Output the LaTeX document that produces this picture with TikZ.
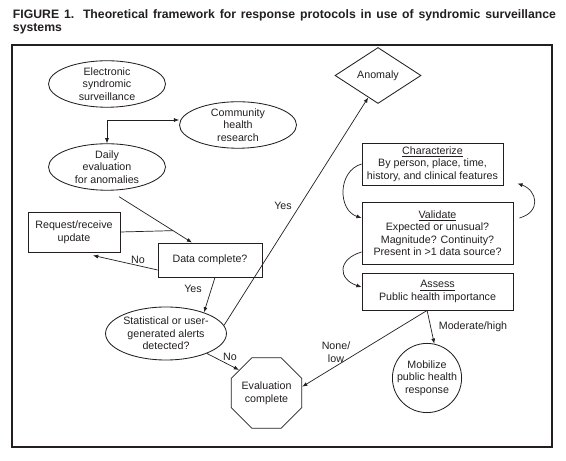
\documentclass[tikz,border=0pt]{standalone}
\usepackage{fontspec}
\setmainfont{Liberation Sans}
\usepackage{tikz}
\usetikzlibrary{arrows.meta, positioning, calc, shapes.geometric}
\definecolor{chartInk}{HTML}{231F20}

\begin{document}
\begin{tikzpicture}[
    oval/.style={
        ellipse,
        draw=chartInk,
        line width=0.6pt,
        inner sep=0pt,
        align=center
    },
    box/.style={
        rectangle,
        draw=chartInk,
        line width=0.6pt,
        inner sep=0pt,
        align=center
    },
    decision/.style={
        diamond,
        draw=chartInk,
        line width=0.6pt,
        inner sep=0pt
    },
    stopsign/.style={
        regular polygon,
        regular polygon sides=8,
        draw=chartInk,
        line width=0.6pt,
        inner sep=0pt,
        align=center
    },
    roundel/.style={
        circle,
        draw=chartInk,
        line width=0.6pt,
        inner sep=0pt,
        align=center
    },
    arrow/.style={-{Latex[length=1.3mm, width=1.0mm]}, draw=chartInk, line width=0.5pt},
    link/.style={draw=chartInk, line width=0.5pt},
    cue/.style={text=chartInk, align=center, inner sep=0pt},
    every node/.style={font=\fontsize{7.6}{8.9}\selectfont, text=chartInk}
]

% Page and outer frame
\useasboundingbox[fill=white] (0,0) rectangle (14.15,11.525);
\draw[draw=chartInk, line width=0.8pt] (0.30,0.35) rectangle (13.80,10.40);

% Title
\node[anchor=north west, inner sep=0pt, text width=13.575cm, align=justify,
      font=\fontsize{8.7}{9.6}\selectfont\bfseries] (title)
    at (0.3175,11.30)
    {FIGURE 1. Theoretical framework for response protocols in use of syndromic surveillance\linebreak systems};

% Left column
\node[oval, minimum width=2.925cm, minimum height=1.05cm] (esurv) at (2.675,9.425)
    {Electronic\\syndromic\\surveillance};
\node[oval, minimum width=2.925cm, minimum height=1.10cm] (community) at (5.95,8.40)
    {Community\\health\\research};
\node[oval, minimum width=2.925cm, minimum height=1.05cm] (daily) at (2.675,7.35)
    {Daily\\evaluation\\for anomalies};
\coordinate (split) at (2.675,8.525);

\node[box, minimum width=2.30cm, minimum height=1.00cm] (request) at (1.85,5.725)
    {Request/receive\\update};
\node[box, minimum width=2.60cm, minimum height=0.85cm] (dataok) at (5.25,5.025)
    {Data complete?};
\node[oval, minimum width=2.95cm, minimum height=1.325cm] (stats) at (4.15,3.1875)
    {Statistical or user-\\generated alerts\\detected?};
\node[stopsign, minimum size=1.65cm] (evalc) at (6.6625,1.70)
    {Evaluation\\complete};

% Right column
\node[decision, minimum width=2.15cm, minimum height=1.40cm] (anomaly) at (9.45,9.6375)
    {Anomaly};
\node[box, minimum width=3.525cm, minimum height=1.05cm] (charact) at (10.8125,7.425)
    {\underline{Characterize}\\By person, place, time,\\history, and clinical features};
\node[box, minimum width=3.775cm, minimum height=1.55cm] (validate) at (10.9375,5.70)
    {\underline{Validate}\\Expected or unusual?\\Magnitude? Continuity?\\Present in >1 data source?};
\node[box, minimum width=3.775cm, minimum height=0.925cm] (assess) at (10.9375,4.2375)
    {\underline{Assess}\\Public health importance};
\node[roundel, minimum size=1.675cm] (mobilize) at (10.675,2.075)
    {Mobilize\\public health\\response};
\coordinate (fork) at ([xshift=-0.26cm]assess.south);

% Flow on the left
\draw[arrow] (split) -- (split -| community.west);
\draw[arrow] (split) -- (daily.north);

\coordinate (dstart) at ([shift={(0.3,-0.15)}]daily.south);
\coordinate (dend) at ([xshift=-0.45cm]dataok.north);
\draw[arrow] (dstart) -- (dend);
\coordinate (join) at ($(dstart)!0.74!(dend)$);
\draw[link] (request.east) -- (join);

\draw[arrow] ([yshift=-0.25cm]dataok.west) -- ([shift={(0.475,-0.075)}]request.south);
\node[cue] (nodata) at (3.45,5.025) {No};

\draw[arrow] ([xshift=0.125cm]dataok.south) -- (stats.29);
\node[cue] (yesdata) at (4.825,4.30) {Yes};

\draw[arrow] (stats.8) -- (anomaly.-114);
\node[cue] (yesalert) at (7.075,6.375) {Yes};

\draw[arrow] (stats.-26) -- (evalc.140);
\node[cue] (noalert) at (5.75,2.60) {No};

% Loops between the steps
\draw[arrow] (charact.west) .. controls +(-0.6,-0.175) and +(-0.6,0.2) .. ([yshift=0.375cm]validate.west);
\draw[arrow] ([shift={(0.15,0.375)}]validate.east) .. controls +(0.55,0.15) and +(0.5,-0.175) .. ([shift={(0.35,0.05)}]charact.south east);
\draw[arrow] ([yshift=-0.475cm]validate.west) .. controls +(-0.6,-0.175) and +(-0.6,0.2) .. ([yshift=0.11cm]assess.west);

% Outcome of the assessment
\draw[arrow] (fork) -- (mobilize.78);
\draw[arrow] (fork) -- (evalc.10);
\node[cue] (modhigh) at (11.825,3.35) {Moderate/high};
\node[cue] (nonelow) at (8.40,2.725) {None/\\low};

\end{tikzpicture}
\end{document}
